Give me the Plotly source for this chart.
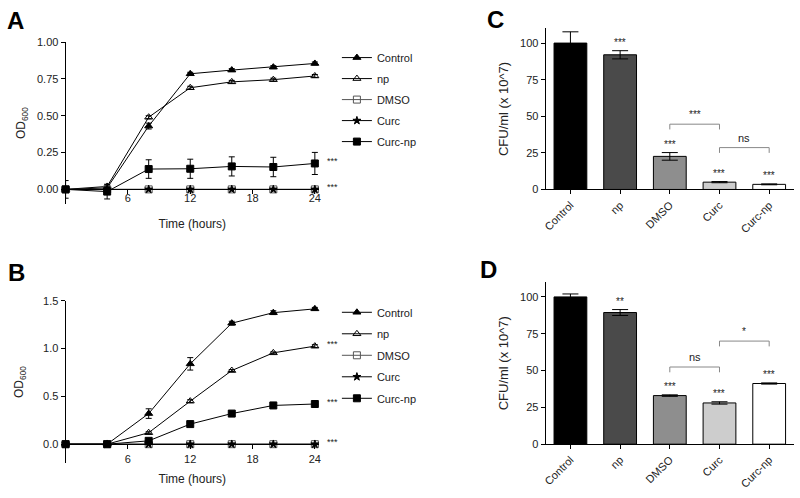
import plotly.graph_objects as go

W, H = 800, 498

# ---------------- data ----------------
hours = [0, 4, 8, 12, 16, 20, 24]
series_names = ["Control", "np", "DMSO", "Curc", "Curc-np"]

# Panel A (OD600)
A_control = [0.00, 0.01, 0.43, 0.785, 0.81, 0.83, 0.855]
A_control_err = [0.01, 0.01, 0.02, 0.01, 0.01, 0.01, 0.01]
A_np = [0.00, 0.02, 0.49, 0.69, 0.73, 0.745, 0.77]
A_np_err = [0.01, 0.01, 0.01, 0.01, 0.01, 0.01, 0.01]
A_dmso = [0.00, 0.00, 0.00, 0.00, 0.00, 0.00, 0.00]
A_curc = [0.00, 0.00, 0.00, 0.00, 0.00, 0.00, 0.00]
A_curcnp = [0.00, -0.015, 0.138, 0.14, 0.156, 0.152, 0.176]
A_curcnp_err = [0.06, 0.05, 0.063, 0.065, 0.065, 0.066, 0.075]
A_sig = [("Curc-np", "***"), ("DMSO", "***")]

# Panel B (OD600)
B_control = [0.00, 0.00, 0.32, 0.84, 1.265, 1.375, 1.415]
B_control_err = [0.0, 0.0, 0.05, 0.065, 0.02, 0.02, 0.015]
B_np = [0.00, 0.00, 0.12, 0.45, 0.77, 0.955, 1.025]
B_np_err = [0.0, 0.0, 0.01, 0.015, 0.01, 0.01, 0.015]
B_dmso = [0.00, 0.00, 0.00, 0.00, 0.00, 0.00, 0.00]
B_curc = [0.00, 0.00, 0.00, 0.00, 0.00, 0.00, 0.00]
B_curcnp = [0.00, 0.00, 0.035, 0.21, 0.32, 0.405, 0.42]
B_curcnp_err = [0.0, 0.0, 0.01, 0.01, 0.01, 0.01, 0.01]
B_sig = [("np", "***"), ("Curc-np", "***"), ("DMSO", "***")]

# Panel C / D (CFU/ml x 10^7)
groups = ["Control", "np", "DMSO", "Curc", "Curc-np"]
C_vals = [100, 92, 22.6, 5.0, 3.5]
C_err = [7.7, 2.8, 2.6, 0.4, 0.3]
C_stars = ["", "***", "***", "***", "***"]
C_brackets = [(2, 3, 44.6, "***"), (3, 4, 28.6, "ns")]

D_vals = [100, 89.4, 33.0, 28.0, 41.2]
D_err = [2.0, 2.0, 0.5, 0.8, 0.4]
D_stars = ["", "**", "***", "***", "***"]
D_brackets = [(2, 3, 52.4, "ns"), (3, 4, 70.0, "*")]

bar_colors = ["#000000", "#4a4a4a", "#8e8e8e", "#cdcdcd", "#ffffff"]

# ---------------- styles ----------------
FONT = "Arial, Liberation Sans, sans-serif"
TXT = "#222222"
styles = {
    "Control": dict(symbol="triangle-up", color="black", size=7),
    "np": dict(symbol="triangle-up-open", color="black", size=7),
    "DMSO": dict(symbol="square-open", color="#555555", size=7),
    "Curc": dict(symbol="star", color="black", size=6),
    "Curc-np": dict(symbol="square", color="black", size=7),
}


def px_x(p):
    return p / W


def px_y(p):
    return 1 - p / H


fig = go.Figure()


def add_line_panel(panel, data, errs, xa, ya, legend):
    for name in series_names:
        st = styles[name]
        err = errs.get(name)
        fig.add_trace(go.Scatter(
            x=hours, y=data[name], name=name, mode="lines+markers",
            xaxis=xa, yaxis=ya, legend=legend, legendgroup=panel + name,
            cliponaxis=False, hoverinfo="skip",
            line=dict(color=st["color"], width=1),
            marker=dict(symbol=st["symbol"], size=st["size"], color=st["color"],
                        line=dict(color=st["color"], width=1)),
            error_y=dict(type="data", array=err, visible=err is not None,
                         color=st["color"], thickness=1, width=3),
        ))


A_data = {"Control": A_control, "np": A_np, "DMSO": A_dmso, "Curc": A_curc, "Curc-np": A_curcnp}
A_errs = {"Control": A_control_err, "np": A_np_err, "Curc-np": A_curcnp_err}
B_data = {"Control": B_control, "np": B_np, "DMSO": B_dmso, "Curc": B_curc, "Curc-np": B_curcnp}
B_errs = {"Control": B_control_err, "np": B_np_err, "Curc-np": B_curcnp_err}

add_line_panel("A", A_data, A_errs, "x", "y", "legend")
add_line_panel("B", B_data, B_errs, "x2", "y2", "legend2")


def add_bar_panel(vals, err, xa, ya):
    fig.add_trace(go.Bar(
        x=groups, y=vals, xaxis=xa, yaxis=ya, showlegend=False, width=0.66,
        hoverinfo="skip",
        marker=dict(color=bar_colors, line=dict(color="black", width=1)),
        error_y=dict(type="data", array=err, color="black", thickness=1, width=8),
    ))


add_bar_panel(C_vals, C_err, "x3", "y3")
add_bar_panel(D_vals, D_err, "x4", "y4")

# ---------------- layout / axes ----------------
A_dom_x = [px_x(63), px_x(318)]
A_dom_y = [px_y(203), px_y(37)]
B_dom_y = [px_y(468.6), px_y(302)]
C_dom_x = [px_x(546), px_x(796)]
C_dom_y = [px_y(188), px_y(23)]
D_dom_y = [px_y(449), px_y(283)]

A_yr = [-0.1, 1.0]
B_yr = [-0.2, 1.5]


def zero_pos(dom, rng):
    return dom[0] + (0 - rng[0]) / (rng[1] - rng[0]) * (dom[1] - dom[0])


tickfont = dict(family=FONT, size=11, color=TXT)
titlefont = dict(family=FONT, size=12, color=TXT)
common_line = dict(showline=True, linecolor="black", linewidth=1, ticks="outside",
                   ticklen=4, tickcolor="black", showgrid=False, zeroline=False,
                   tickfont=tickfont)

fig.update_layout(
    width=W, height=H, margin=dict(l=0, r=0, t=0, b=0),
    paper_bgcolor="white", plot_bgcolor="white",
    font=dict(family=FONT, color=TXT),
    xaxis=dict(domain=A_dom_x, range=[0, 24.4], tickvals=[6, 12, 18, 24],
               anchor="free", position=zero_pos(A_dom_y, A_yr), ticklabelstandoff=-6,
               title=dict(text="Time (hours)", font=titlefont, standoff=17), **common_line),
    yaxis=dict(domain=A_dom_y, range=A_yr, tickvals=[0, 0.25, 0.5, 0.75, 1.0],
               tickformat=".2f", anchor="x",
               title=dict(text="OD<sub>600</sub>", font=titlefont, standoff=8), **common_line),
    xaxis2=dict(domain=A_dom_x, range=[0, 24.4], tickvals=[6, 12, 18, 24],
                anchor="free", position=zero_pos(B_dom_y, B_yr), ticklabelstandoff=1,
                title=dict(text="Time (hours)", font=titlefont, standoff=10), **common_line),
    yaxis2=dict(domain=B_dom_y, range=B_yr, tickvals=[0, 0.5, 1.0, 1.5],
                tickformat=".1f", anchor="x2",
                title=dict(text="OD<sub>600</sub>", font=titlefont, standoff=16), **common_line),
    xaxis3=dict(domain=C_dom_x, range=[-0.5, 4.5], anchor="y3", tickangle=-45, **common_line),
    yaxis3=dict(domain=C_dom_y, range=[0, 110], tickvals=[0, 25, 50, 75, 100], anchor="x3",
                title=dict(text="CFU/ml (x 10^7)", font=dict(family=FONT, size=13, color=TXT),
                           standoff=8), **common_line),
    xaxis4=dict(domain=C_dom_x, range=[-0.5, 4.5], anchor="y4", tickangle=-45, **common_line),
    yaxis4=dict(domain=D_dom_y, range=[0, 110], tickvals=[0, 25, 50, 75, 100], anchor="x4",
                title=dict(text="CFU/ml (x 10^7)", font=dict(family=FONT, size=13, color=TXT),
                           standoff=8), **common_line),
    legend=dict(x=px_x(336), y=px_y(38), xanchor="left", yanchor="top",
                font=dict(family=FONT, size=11, color=TXT), tracegroupgap=2,
                bgcolor="rgba(0,0,0,0)", itemwidth=30),
    legend2=dict(x=px_x(336), y=px_y(299), xanchor="left", yanchor="top",
                 font=dict(family=FONT, size=11, color=TXT), tracegroupgap=2.5,
                 bgcolor="rgba(0,0,0,0)", itemwidth=30),
)

annotations = []
# panel letters
for letter, lx, ly in [("A", 13, 15), ("B", 14, 273), ("C", 496, 14), ("D", 489, 270)]:
    annotations.append(dict(text=f"<b>{letter}</b>", x=px_x(lx), y=px_y(ly),
                            xref="paper", yref="paper", showarrow=False,
                            font=dict(family=FONT, size=24, color="black"),
                            xanchor="center", yanchor="middle"))

# significance stars at line ends
for sig, data, xa, ya in [(A_sig, A_data, "x", "y"), (B_sig, B_data, "x2", "y2")]:
    for name, s in sig:
        annotations.append(dict(text=s, x=hours[-1], y=data[name][-1], xref=xa, yref=ya,
                                showarrow=False, xanchor="left", yanchor="middle",
                                xshift=10, yshift=2, font=dict(family=FONT, size=9, color=TXT)))

shapes = []
for vals, err, stars, brackets, xa, ya in [
        (C_vals, C_err, C_stars, C_brackets, "x3", "y3"),
        (D_vals, D_err, D_stars, D_brackets, "x4", "y4")]:
    for i, s in enumerate(stars):
        if s:
            annotations.append(dict(text=s, x=groups[i], y=vals[i] + err[i], xref=xa, yref=ya,
                                    showarrow=False, yanchor="bottom", yshift=1,
                                    font=dict(family=FONT, size=10, color=TXT)))
    for i, j, h, lab in brackets:
        leg = 3.6
        shapes.append(dict(type="path", xref=xa, yref=ya,
                           path=f"M {i},{h - leg} L {i},{h} L {j},{h} L {j},{h - leg}",
                           line=dict(color="#888888", width=1)))
        annotations.append(dict(text=lab, x=(i + j) / 2, y=h, xref=xa, yref=ya,
                                showarrow=False, yanchor="bottom", yshift=2,
                                font=dict(family=FONT, size=11 if lab == "ns" else 10, color=TXT)))

fig.update_layout(annotations=annotations, shapes=shapes)

fig.write_html("out.html", config={"displayModeBar": False},
               post_script="document.body.style.margin='0';")
